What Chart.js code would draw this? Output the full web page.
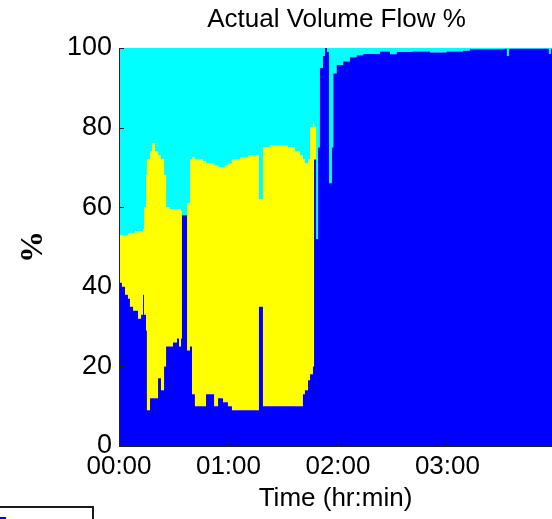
<!DOCTYPE html>
<html>
<head>
<meta charset="utf-8">
<script src="https://cdn.jsdelivr.net/npm/chart.js@4"></script>
<style>
  html, body { margin: 0; padding: 0; background: #fff; overflow: hidden; }
  #wrap { position: relative; width: 552px; height: 519px; overflow: hidden; }
  #legendBox { position: absolute; left: -2px; top: 506px; width: 96px; height: 30px; border: 2px solid #1a1a1a; box-sizing: border-box; }
  #legendBox span { position: absolute; left: 0; top: 9px; width: 6px; height: 4px; background: #0000ff; }
</style>
</head>
<body>
<div id="wrap">
  <canvas id="flowChart" width="552" height="519"></canvas>
  <div id="legendBox"><span></span></div>
</div>
<script>
// time in minutes from start
const timeMin = [
  0, 1.6, 3.3, 4.9, 6.0, 7.7, 8.8, 10.4, 12.1, 13.2,
  13.7, 14.8, 15.3, 17.0, 18.1, 19.7, 21.4, 23.0, 24.7, 25.8,
  27.9, 29.6, 31.8, 32.9, 34.0, 34.5, 37.3, 37.8, 38.9, 40.0,
  41.6, 44.4, 46.0, 47.7, 49.9, 52.1, 54.3, 57.0, 58.1, 59.7,
  61.9, 66.3, 70.7, 74.5, 76.7, 78.9, 82.7, 88.2, 92.6, 96.4,
  99.2, 100.8, 101.9, 103.6, 104.7, 106.3, 106.9, 108.0, 109.1, 110.1,
  111.8, 112.9, 114.0, 115.1, 116.7, 117.5, 119.3, 122.9, 126.6, 130.2,
  133.9, 143.0, 148.5, 152.2, 161.0, 170.4, 179.6, 188.5, 192.3, 211.5,
  212.6, 213.7, 235.6, 236.7, 237.3
];

// share of flow per unit (%), stacked bottom to top
const bluePct = [
  41, 40, 38, 37, 35, 34, 34, 32, 33, 38,
  33, 29, 9, 12, 12, 12, 17, 14, 20, 25,
  25, 26, 27, 25, 27, 58, 24, 24, 25, 13,
  10, 10, 10, 13, 13, 10, 12, 11, 11, 10,
  9, 9, 9, 9, 35, 10, 10, 10, 10, 10,
  10, 13, 14, 16.5, 18, 20, 72, 52, 75, 95,
  98, 100, 99, 66, 75, 93.6, 95.7, 96.6, 97.7, 98.2,
  98.5, 99.1, 98.4, 99, 99.1, 98.9, 99.1, 99.3, 99.7, 99.8,
  98, 99.8, 98.5, 99.8, 99.8
];
const yellowPct = [
  12, 13, 15, 16.5, 18.5, 19.5, 20, 22, 21, 16.5,
  27, 39, 63, 62, 64, 62, 56, 58, 48, 35,
  34.5, 33.5, 32.5, 34.5, 32, 0, 37, 37, 47, 59.5,
  62, 62, 61.5, 58, 58, 60.5, 58, 59, 59.5, 61,
  63, 63.5, 64, 64, 27, 65, 65.5, 65.5, 65, 64,
  63, 59, 57, 55.5, 62, 61, 8, 0, 0, 0,
  0, 0, 0, 0, 0, 0, 0, 0, 0, 0,
  0, 0, 0, 0, 0, 0, 0, 0, 0, 0,
  0, 0, 0, 0, 0
];
const cyanPct = [
  47, 47, 47, 46.5, 46.5, 46.5, 46, 46, 46, 45.5,
  40, 32, 28, 26, 24, 26, 27, 28, 32, 40,
  40.5, 40.5, 40.5, 40.5, 41, 42, 39, 39, 28, 27.5,
  28, 28, 28.5, 29, 29, 29.5, 30, 30, 29.5, 29,
  28, 27.5, 27, 27, 38, 25, 24.5, 24.5, 25, 26,
  27, 28, 29, 28, 20, 19, 20, 48, 25, 5,
  2, 0, 1, 34, 25, 6.4, 4.3, 3.4, 2.3, 1.8,
  1.5, 0.9, 1.6, 1, 0.9, 1.1, 0.9, 0.7, 0.3, 0.2,
  2, 0.2, 1.5, 0.2, 0.2
];

const yTicks = [0, 20, 40, 60, 80, 100];
const xTicks = [0, 60, 120, 180]; // minutes

const FONT = "'Liberation Sans', Arial, sans-serif";

function toPoints(vals) {
  return timeMin.map((t, i) => ({ x: t, y: vals[i] }));
}

function fmtTime(v) {
  const h = Math.floor(v / 60);
  const m = Math.round(v % 60);
  return String(h).padStart(2, '0') + ':' + String(m).padStart(2, '0');
}

// small tick marks pointing into the plot + title over the plot area
const decorations = {
  id: 'decorations',
  afterDraw(chart) {
    const { ctx, chartArea: a, scales: { x, y } } = chart;
    ctx.save();
    ctx.strokeStyle = '#222';
    ctx.lineWidth = 1;
    ctx.beginPath();
    y.ticks.forEach(t => {
      const py = Math.round(y.getPixelForValue(t.value)) + 0.5;
      ctx.moveTo(a.left, py);
      ctx.lineTo(a.left + 5, py);
    });
    x.ticks.forEach(t => {
      const px = Math.round(x.getPixelForValue(t.value)) + 0.5;
      ctx.moveTo(px, a.bottom);
      ctx.lineTo(px, a.bottom - 5);
    });
    ctx.stroke();

    ctx.fillStyle = '#000';
    ctx.font = '26px ' + FONT;
    ctx.textAlign = 'center';
    ctx.textBaseline = 'middle';
    ctx.fillText('Actual Volume Flow %', (a.left + a.right) / 2 + 1, 20);
    ctx.restore();
  }
};

const ctx = document.getElementById('flowChart').getContext('2d');

new Chart(ctx, {
  type: 'line',
  data: {
    datasets: [
      { label: 'Unit 1', data: toPoints(bluePct), backgroundColor: '#0000ff', fill: 'origin' },
      { label: 'Unit 2', data: toPoints(yellowPct), backgroundColor: '#ffff00', fill: '-1' },
      { label: 'Unit 3', data: toPoints(cyanPct), backgroundColor: '#00ffff', fill: '-1' }
    ]
  },
  options: {
    responsive: false,
    animation: false,
    layout: { padding: { top: 48, left: 0, right: 0, bottom: 0 } },
    elements: {
      // each value holds until the next sample
      line: { borderWidth: 0, stepped: 'before', tension: 0 },
      point: { radius: 0 }
    },
    plugins: {
      legend: { display: false },
      tooltip: { enabled: false },
      title: { display: false }
    },
    scales: {
      x: {
        type: 'linear',
        min: 0,
        max: 237.3,
        grid: { display: false, drawTicks: false },
        border: { display: true, color: '#222', width: 1, z: 1 },
        afterBuildTicks: s => { s.ticks = xTicks.map(v => ({ value: v })); },
        ticks: {
          autoSkip: false,
          maxRotation: 0,
          padding: 5,
          color: '#000',
          font: { family: FONT, size: 26 },
          callback: fmtTime
        },
        title: {
          display: true,
          text: 'Time (hr:min)',
          color: '#000',
          font: { family: FONT, size: 26 },
          padding: { top: 0, bottom: 5 }
        },
        afterFit: s => { s.height = 73; }
      },
      y: {
        min: 0,
        max: 100,
        stacked: true,
        grid: { display: false, drawTicks: false },
        border: { display: true, color: '#222', width: 1, z: 1 },
        afterBuildTicks: s => { s.ticks = yTicks.map(v => ({ value: v })); },
        ticks: {
          padding: 7,
          color: '#000',
          font: { family: FONT, size: 27 }
        },
        title: {
          display: true,
          text: '%',
          color: '#000',
          font: { family: "'Liberation Serif', 'Times New Roman', serif", size: 32, weight: 'bold' },
          padding: { top: 15, bottom: 0 }
        },
        afterFit: s => { s.width = 119; }
      }
    }
  },
  plugins: [decorations]
});
</script>
</body>
</html>
